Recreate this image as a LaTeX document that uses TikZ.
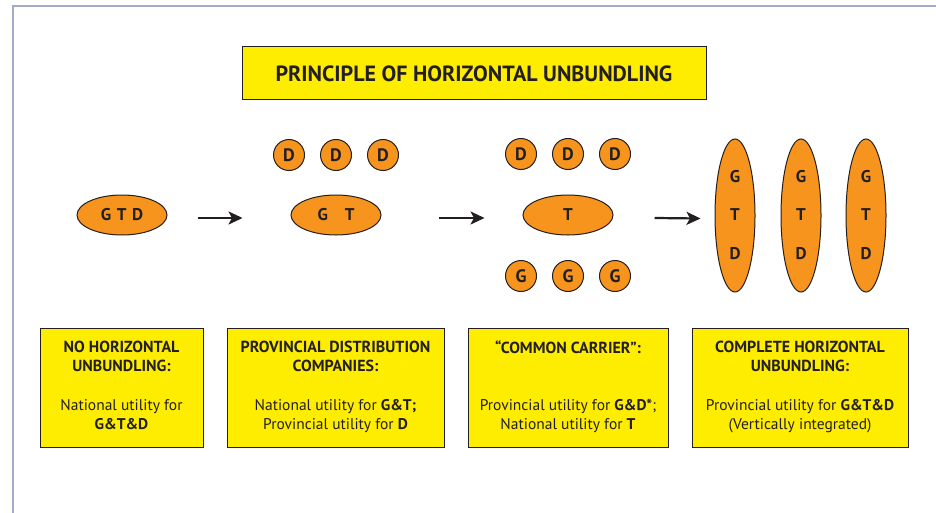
\documentclass[tikz,border=0pt]{standalone}
\usepackage{fontspec}
\setmainfont{PT Sans}
\definecolor{unbyellow}{RGB}{255,237,0}
\definecolor{unborange}{RGB}{247,148,29}
\definecolor{unbink}{RGB}{35,31,32}
\definecolor{unbframe}{RGB}{160,172,202}
\usetikzlibrary{shapes.geometric,arrows.meta,positioning,calc}

\begin{document}
\begin{tikzpicture}[x=1pt,y=-1pt,>={Stealth[length=14pt,width=13pt,inset=3.5pt]}]
  \tikzset{
    utility/.style={ellipse,draw=unbink,line width=1pt,fill=unborange,inner sep=0pt,text=unbink,font=\fontsize{17}{17}\selectfont\bfseries},
    flatutil/.style={utility,minimum width=90pt,minimum height=40pt},
    tallutil/.style={utility,minimum width=40pt,minimum height=153pt},
    company/.style={circle,draw=unbink,line width=1pt,fill=unborange,inner sep=0pt,minimum size=31pt,text=unbink,font=\fontsize{18}{18}\selectfont\bfseries},
    letter/.style={text=unbink,font=\fontsize{17}{17}\selectfont\bfseries},
    casebox/.style={rectangle,draw=unbink,line width=1pt,fill=unbyellow,inner sep=0pt},
    casehead/.style={align=center,text=unbink,font=\fontsize{16}{19}\selectfont\bfseries,anchor=north},
    casebody/.style={align=center,text=unbink,font=\fontsize{15.5}{19}\selectfont,anchor=north},
    stagearrow/.style={->,line width=2.2pt,draw=unbink}
  }
  \useasboundingbox (0,0) rectangle (936,513);
  \fill[white] (0,0) rectangle (936,513);
  \draw[unbframe,line width=2pt] (13,513) -- (13,6) -- (936,6);

  % title
  \node[casebox,minimum width=464pt,minimum height=53pt,font=\fontsize{22}{22}\selectfont\bfseries,text=unbink] (title) at (474,73.5) {PRINCIPLE OF HORIZONTAL UNBUNDLING};

  % stage 1
  \node[flatutil] (gtd) at (122,215) {G\,\,T\,\,D};

  % stage 2
  \node[flatutil] (gt) at (336,215) {G\quad T};
  \node[company] (d1) at (289,155) {D};
  \node[company] (d2) at (336,155) {D};
  \node[company] (d3) at (383,155) {D};

  % stage 3
  \node[flatutil] (t) at (568,215) {T};
  \node[company] (cd1) at (521,154) {D};
  \node[company] (cd2) at (568,154) {D};
  \node[company] (cd3) at (615,154) {D};
  \node[company] (cg1) at (521,276) {G};
  \node[company] (cg2) at (568,276) {G};
  \node[company] (cg3) at (615,276) {G};

  % stage 4
  \foreach \x/\name in {735/v1,801/v2,866/v3}{
    \node[tallutil] (\name) at (\x,215.5) {};
    \node[letter] at (\x,177) {G};
    \node[letter] at (\x,215) {T};
    \node[letter] at (\x,254) {D};
  }

  \draw[stagearrow] ([xshift=30pt,yshift=-3pt]gtd.east) -- ([xshift=-48pt,yshift=-3pt]gt.west);
  \draw[stagearrow] ([xshift=57pt,yshift=-3pt]gt.east) -- ([xshift=-38pt,yshift=-3pt]t.west);
  \draw[stagearrow] ([xshift=41pt,yshift=-3pt]t.east) -- ([xshift=-14pt,yshift=-3pt]v1.west);

  % cases
  \node[casebox,minimum width=163pt,minimum height=119pt] (case1) at (121.5,387.5) {};
  \node[casebox,minimum width=217pt,minimum height=119pt] (case2) at (335.5,387.5) {};
  \node[casebox,minimum width=200pt,minimum height=119pt] (case3) at (568,387.5) {};
  \node[casebox,minimum width=216pt,minimum height=119pt] (case4) at (800,387.5) {};

  \node[casehead] at ([yshift=-10pt]case1.north) {NO HORIZONTAL\\UNBUNDLING:};
  \node[casebody] at ([yshift=-68pt]case1.north) {National utility for\\\textbf{G\&T\&D}};
  \node[casehead] at ([yshift=-10pt]case2.north) {PROVINCIAL DISTRIBUTION\\COMPANIES:};
  \node[casebody] at ([yshift=-68pt]case2.north) {National utility for \textbf{G\&T;}\\Provincial utility for \textbf{D}};
  \node[casehead] at ([yshift=-10pt]case3.north) {``COMMON CARRIER'':};
  \node[casebody] at ([yshift=-68pt]case3.north) {Provincial utility for \textbf{G\&D*};\\National utility for \textbf{T}};
  \node[casehead] at ([yshift=-10pt]case4.north) {COMPLETE HORIZONTAL\\UNBUNDLING:};
  \node[casebody] at ([yshift=-68pt]case4.north) {Provincial utility for \textbf{G\&T\&D}\\(Vertically integrated)};
\end{tikzpicture}
\end{document}
